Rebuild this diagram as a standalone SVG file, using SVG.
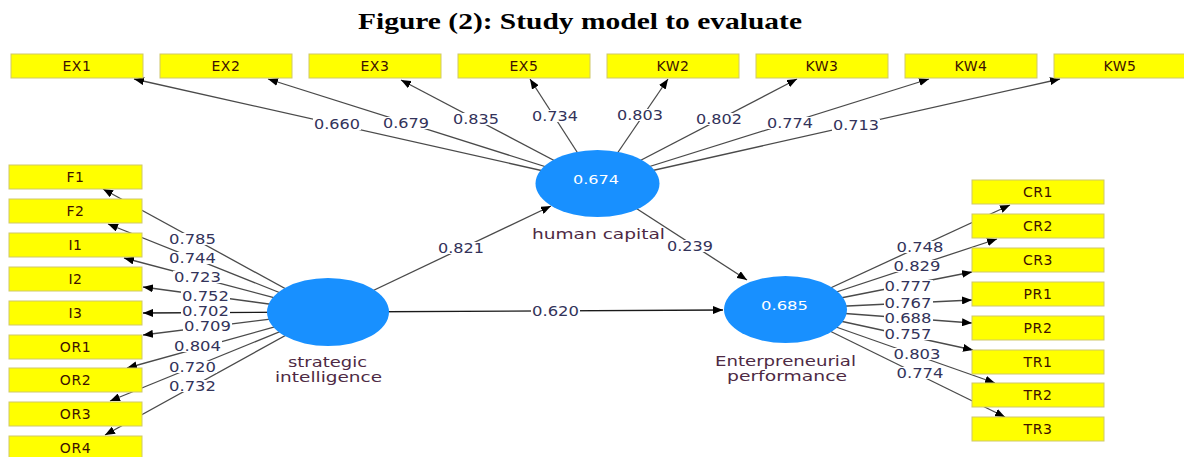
<svg xmlns="http://www.w3.org/2000/svg" width="1184" height="457" viewBox="0 0 1184 457">
<style>
.box{fill:#ffff00;stroke:#cfc86a;stroke-width:1}
.bt{font-family:"DejaVu Sans",Verdana,sans-serif;font-size:14px;fill:#3d1200;text-anchor:middle;letter-spacing:0.6px}
.ln{stroke:#4a4a4a;stroke-width:1.3;fill:none;marker-end:url(#arr)}
.lnd{stroke:#1a1a1a;stroke-width:1.4;fill:none;marker-end:url(#arr)}
.lbg{fill:#ffffff}
.lt{font-family:"DejaVu Sans",Verdana,sans-serif;font-size:13.5px;fill:#33335a;text-anchor:middle}
.lv{fill:#1890ff}
.lvt{font-family:"DejaVu Sans",Verdana,sans-serif;font-size:13px;fill:#ffffff;text-anchor:middle}
.nl{font-family:"DejaVu Sans",Verdana,sans-serif;font-size:14px;fill:#4e2a44;text-anchor:middle}
.title{font-family:"Liberation Serif","Times New Roman",serif;font-weight:bold;font-size:23px;fill:#000;text-anchor:middle}
</style>
<defs>
<marker id="arr" viewBox="0 0 10 8" refX="10" refY="4" markerWidth="10" markerHeight="8" markerUnits="userSpaceOnUse" orient="auto">
<path d="M0,0L10,4L0,8z" fill="#000"/>
</marker>
</defs>

<text class="title" x="580" y="29" textLength="444" lengthAdjust="spacingAndGlyphs">Figure (2): Study model to evaluate</text>

<g id="connectors">
<line class="ln" x1="597" y1="183" x2="134" y2="79"/>
<line class="ln" x1="597" y1="183" x2="268" y2="79"/>
<line class="ln" x1="597" y1="183" x2="401" y2="80"/>
<line class="ln" x1="597" y1="183" x2="530" y2="79"/>
<line class="ln" x1="597" y1="183" x2="668" y2="79"/>
<line class="ln" x1="597" y1="183" x2="797" y2="79"/>
<line class="ln" x1="597" y1="183" x2="929" y2="79"/>
<line class="ln" x1="597" y1="183" x2="1060" y2="79"/>
<line class="ln" x1="328" y1="312" x2="103" y2="189"/>
<line class="ln" x1="328" y1="312" x2="108" y2="224"/>
<line class="ln" x1="328" y1="312" x2="124" y2="258"/>
<line class="ln" x1="328" y1="312" x2="143" y2="287"/>
<line class="lnd" x1="328" y1="312" x2="143" y2="313"/>
<line class="ln" x1="328" y1="312" x2="143" y2="335"/>
<line class="ln" x1="328" y1="312" x2="127" y2="368"/>
<line class="ln" x1="328" y1="312" x2="110" y2="401"/>
<line class="ln" x1="328" y1="312" x2="105" y2="435"/>
<line class="ln" x1="785" y1="309" x2="1010" y2="205"/>
<line class="ln" x1="785" y1="309" x2="997" y2="239"/>
<line class="ln" x1="785" y1="309" x2="972" y2="272"/>
<line class="ln" x1="785" y1="309" x2="972" y2="300"/>
<line class="ln" x1="785" y1="309" x2="972" y2="323"/>
<line class="ln" x1="785" y1="309" x2="973" y2="350"/>
<line class="ln" x1="785" y1="309" x2="995" y2="383"/>
<line class="ln" x1="785" y1="309" x2="1005" y2="417"/>
<line class="ln" x1="328" y1="312" x2="551" y2="206"/>
<line class="ln" x1="597" y1="183" x2="747" y2="280"/>
<line class="lnd" x1="328" y1="312" x2="723" y2="310"/>

<g id="connector-labels">
<rect class="lbg" x="313" y="118" width="48" height="12"/>
<rect class="lbg" x="382" y="117" width="48" height="12"/>
<rect class="lbg" x="452" y="113" width="48" height="12"/>
<rect class="lbg" x="531" y="110" width="48" height="12"/>
<rect class="lbg" x="616" y="109" width="48" height="12"/>
<rect class="lbg" x="695" y="113" width="48" height="12"/>
<rect class="lbg" x="766" y="117" width="48" height="12"/>
<rect class="lbg" x="832" y="119" width="48" height="12"/>
<rect class="lbg" x="168" y="233" width="49" height="12"/>
<rect class="lbg" x="168" y="252" width="49" height="12"/>
<rect class="lbg" x="173" y="271" width="49" height="12"/>
<rect class="lbg" x="181" y="290" width="49" height="12"/>
<rect class="lbg" x="181" y="305" width="49" height="12"/>
<rect class="lbg" x="183" y="320" width="49" height="12"/>
<rect class="lbg" x="173" y="340" width="49" height="12"/>
<rect class="lbg" x="168" y="361" width="49" height="12"/>
<rect class="lbg" x="168" y="380" width="49" height="12"/>
<rect class="lbg" x="896" y="241" width="49" height="12"/>
<rect class="lbg" x="893" y="260" width="49" height="12"/>
<rect class="lbg" x="884" y="280" width="49" height="12"/>
<rect class="lbg" x="884" y="297" width="49" height="12"/>
<rect class="lbg" x="884" y="312" width="49" height="12"/>
<rect class="lbg" x="884" y="328" width="49" height="12"/>
<rect class="lbg" x="893" y="348" width="49" height="12"/>
<rect class="lbg" x="896" y="367" width="49" height="12"/>
<rect class="lbg" x="437" y="242" width="49" height="12"/>
<rect class="lbg" x="666" y="240" width="49" height="12"/>
<rect class="lbg" x="531" y="305" width="49" height="12"/>

<text class="lt" x="337" y="129" textLength="46" lengthAdjust="spacingAndGlyphs">0.660</text>
<text class="lt" x="406" y="128" textLength="46" lengthAdjust="spacingAndGlyphs">0.679</text>
<text class="lt" x="476" y="124" textLength="46" lengthAdjust="spacingAndGlyphs">0.835</text>
<text class="lt" x="555" y="121" textLength="46" lengthAdjust="spacingAndGlyphs">0.734</text>
<text class="lt" x="640" y="120" textLength="46" lengthAdjust="spacingAndGlyphs">0.803</text>
<text class="lt" x="719" y="124" textLength="46" lengthAdjust="spacingAndGlyphs">0.802</text>
<text class="lt" x="790" y="128" textLength="46" lengthAdjust="spacingAndGlyphs">0.774</text>
<text class="lt" x="856" y="130" textLength="46" lengthAdjust="spacingAndGlyphs">0.713</text>

<text class="lt" x="192.5" y="244" textLength="47" lengthAdjust="spacingAndGlyphs">0.785</text>
<text class="lt" x="192.5" y="263" textLength="47" lengthAdjust="spacingAndGlyphs">0.744</text>
<text class="lt" x="197.5" y="282" textLength="47" lengthAdjust="spacingAndGlyphs">0.723</text>
<text class="lt" x="205.5" y="301" textLength="47" lengthAdjust="spacingAndGlyphs">0.752</text>
<text class="lt" x="205.5" y="316" textLength="47" lengthAdjust="spacingAndGlyphs">0.702</text>
<text class="lt" x="207.5" y="331" textLength="47" lengthAdjust="spacingAndGlyphs">0.709</text>
<text class="lt" x="197.5" y="351" textLength="47" lengthAdjust="spacingAndGlyphs">0.804</text>
<text class="lt" x="192.5" y="372" textLength="47" lengthAdjust="spacingAndGlyphs">0.720</text>
<text class="lt" x="192.5" y="391" textLength="47" lengthAdjust="spacingAndGlyphs">0.732</text>

<text class="lt" x="920" y="252" textLength="47" lengthAdjust="spacingAndGlyphs">0.748</text>
<text class="lt" x="917" y="271" textLength="47" lengthAdjust="spacingAndGlyphs">0.829</text>
<text class="lt" x="908" y="291" textLength="47" lengthAdjust="spacingAndGlyphs">0.777</text>
<text class="lt" x="908" y="308" textLength="47" lengthAdjust="spacingAndGlyphs">0.767</text>
<text class="lt" x="908" y="323" textLength="47" lengthAdjust="spacingAndGlyphs">0.688</text>
<text class="lt" x="908" y="339" textLength="47" lengthAdjust="spacingAndGlyphs">0.757</text>
<text class="lt" x="917" y="359" textLength="47" lengthAdjust="spacingAndGlyphs">0.803</text>
<text class="lt" x="920" y="378" textLength="47" lengthAdjust="spacingAndGlyphs">0.774</text>

<text class="lt" x="461" y="253" textLength="46" lengthAdjust="spacingAndGlyphs">0.821</text>
<text class="lt" x="690" y="251" textLength="46" lengthAdjust="spacingAndGlyphs">0.239</text>
<text class="lt" x="555.5" y="316" textLength="47" lengthAdjust="spacingAndGlyphs">0.620</text>
</g>
</g>

<g id="EX1"><rect class="box" x="11" y="54" width="132" height="24"/><text class="bt" x="77" y="71">EX1</text></g>
<g id="EX2"><rect class="box" x="160" y="54" width="132" height="24"/><text class="bt" x="226" y="71">EX2</text></g>
<g id="EX3"><rect class="box" x="309" y="54" width="132" height="24"/><text class="bt" x="375" y="71">EX3</text></g>
<g id="EX5"><rect class="box" x="458" y="54" width="132" height="24"/><text class="bt" x="524" y="71">EX5</text></g>
<g id="KW2"><rect class="box" x="607" y="54" width="132" height="24"/><text class="bt" x="673" y="71">KW2</text></g>
<g id="KW3"><rect class="box" x="756" y="54" width="132" height="24"/><text class="bt" x="822" y="71">KW3</text></g>
<g id="KW4"><rect class="box" x="905" y="54" width="132" height="24"/><text class="bt" x="971" y="71">KW4</text></g>
<g id="KW5"><rect class="box" x="1054" y="54" width="132" height="24"/><text class="bt" x="1120" y="71">KW5</text></g>

<g id="F1"><rect class="box" x="9" y="165" width="133" height="24"/><text class="bt" x="75.5" y="182">F1</text></g>
<g id="F2"><rect class="box" x="9" y="199" width="133" height="24"/><text class="bt" x="75.5" y="216">F2</text></g>
<g id="I1"><rect class="box" x="9" y="233" width="133" height="24"/><text class="bt" x="75.5" y="250">I1</text></g>
<g id="I2"><rect class="box" x="9" y="267" width="133" height="24"/><text class="bt" x="75.5" y="284">I2</text></g>
<g id="I3"><rect class="box" x="9" y="301" width="133" height="24"/><text class="bt" x="75.5" y="318">I3</text></g>
<g id="OR1"><rect class="box" x="9" y="335" width="133" height="24"/><text class="bt" x="75.5" y="352">OR1</text></g>
<g id="OR2"><rect class="box" x="9" y="368" width="133" height="24"/><text class="bt" x="75.5" y="385">OR2</text></g>
<g id="OR3"><rect class="box" x="9" y="402" width="133" height="24"/><text class="bt" x="75.5" y="419">OR3</text></g>
<g id="OR4"><rect class="box" x="9" y="436" width="133" height="24"/><text class="bt" x="75.5" y="453">OR4</text></g>

<g id="CR1"><rect class="box" x="972" y="180" width="132" height="24"/><text class="bt" x="1038" y="197">CR1</text></g>
<g id="CR2"><rect class="box" x="972" y="214" width="132" height="24"/><text class="bt" x="1038" y="231">CR2</text></g>
<g id="CR3"><rect class="box" x="972" y="248" width="132" height="24"/><text class="bt" x="1038" y="265">CR3</text></g>
<g id="PR1"><rect class="box" x="972" y="282" width="132" height="24"/><text class="bt" x="1038" y="299">PR1</text></g>
<g id="PR2"><rect class="box" x="972" y="316" width="132" height="24"/><text class="bt" x="1038" y="333">PR2</text></g>
<g id="TR1"><rect class="box" x="972" y="350" width="132" height="24"/><text class="bt" x="1038" y="367">TR1</text></g>
<g id="TR2"><rect class="box" x="972" y="383" width="132" height="24"/><text class="bt" x="1038" y="400">TR2</text></g>
<g id="TR3"><rect class="box" x="972" y="417" width="132" height="24"/><text class="bt" x="1038" y="434">TR3</text></g>

<g id="human-capital">
<ellipse class="lv" cx="597.5" cy="183.5" rx="62" ry="33.5"/>
<text class="lvt" x="596" y="184" textLength="46" lengthAdjust="spacingAndGlyphs">0.674</text>
<text class="nl" x="598.5" y="239" textLength="133" lengthAdjust="spacingAndGlyphs">human capital</text>
</g>
<g id="strategic-intelligence">
<ellipse class="lv" cx="328" cy="312" rx="61" ry="34"/>
<text class="nl" x="327.5" y="367" textLength="79" lengthAdjust="spacingAndGlyphs">strategic</text>
<text class="nl" x="328.5" y="382" textLength="107" lengthAdjust="spacingAndGlyphs">intelligence</text>
</g>
<g id="entrepreneurial-performance">
<ellipse class="lv" cx="785.5" cy="309.5" rx="61.5" ry="33.5"/>
<text class="lvt" x="784.5" y="310" textLength="47" lengthAdjust="spacingAndGlyphs">0.685</text>
<text class="nl" x="785.5" y="366" textLength="141" lengthAdjust="spacingAndGlyphs">Enterpreneurial</text>
<text class="nl" x="787" y="381" textLength="120" lengthAdjust="spacingAndGlyphs">performance</text>
</g>
</svg>
